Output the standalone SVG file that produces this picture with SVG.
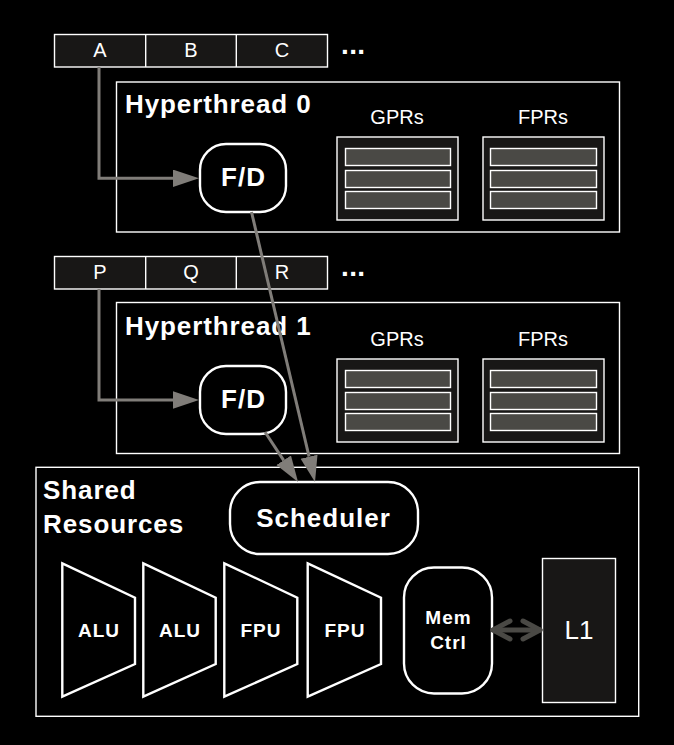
<svg xmlns="http://www.w3.org/2000/svg" width="674" height="745" viewBox="0 0 674 745">
<style>
.box{fill:none;stroke:#fff;stroke-width:1.4}
.dark{fill:#181716;stroke:#fff;stroke-width:1.4}
.bar{fill:#4a4945;stroke:#fff;stroke-width:1.4}
.node{fill:#000;stroke:#fff;stroke-width:2.4}
.t{font-family:"Liberation Sans",Arial,sans-serif;fill:#fff}
.title{font-size:26px;font-weight:bold;letter-spacing:0.9px}
.reg{font-size:20px;text-anchor:middle}
.cell{font-size:20px;text-anchor:middle}
.fd{font-size:26px;font-weight:bold;text-anchor:middle;letter-spacing:1px}
.unit{font-size:19px;font-weight:bold;text-anchor:middle;letter-spacing:1px}
.conn{fill:none;stroke:#807d79;stroke-width:3}
</style>
<defs>
<marker id="ah" markerUnits="userSpaceOnUse" markerWidth="27" markerHeight="18" refX="0" refY="8.7" orient="auto">
<path d="M0,0 L26,8.7 L0,17.4 Z" fill="#807d79"/>
</marker>
</defs>
<rect width="674" height="745" fill="#000"/>

<g id="queue0">
<rect class="dark" x="54.5" y="34.5" width="273" height="32.5"/>
<line x1="145.7" y1="34.5" x2="145.7" y2="67" stroke="#fff" stroke-width="1.4"/>
<line x1="236.3" y1="34.5" x2="236.3" y2="67" stroke="#fff" stroke-width="1.4"/>
<text class="t cell" x="100" y="57">A</text>
<text class="t cell" x="191" y="57">B</text>
<text class="t cell" x="282" y="57">C</text>
<text class="t" x="341" y="54" font-size="28" font-weight="bold" letter-spacing="0.4">...</text>
</g>

<g id="hyperthread0">
<rect class="box" x="116.5" y="82" width="503" height="150"/>
<text class="t title" x="125" y="113">Hyperthread 0</text>
</g>
<g id="gprs0">
<text class="t reg" x="397" y="124">GPRs</text>
<rect class="dark" x="337" y="137" width="121" height="83"/>
<rect class="bar" x="345.5" y="148.5" width="105" height="17"/>
<rect class="bar" x="345.5" y="170.5" width="105" height="17"/>
<rect class="bar" x="345.5" y="191.5" width="105" height="17"/>
</g>
<g id="fprs0">
<text class="t reg" x="543" y="124">FPRs</text>
<rect class="dark" x="483" y="137" width="121" height="83"/>
<rect class="bar" x="490.5" y="148.5" width="106" height="17"/>
<rect class="bar" x="490.5" y="170.5" width="106" height="17"/>
<rect class="bar" x="490.5" y="191.5" width="106" height="17"/>
</g>
<g id="fd0">
<rect class="node" x="200" y="144" width="86" height="68" rx="26" ry="26"/>
<text class="t fd" x="243.5" y="186">F/D</text>
</g>

<g id="queue1">
<rect class="dark" x="54.5" y="256.5" width="273" height="32.5"/>
<line x1="145.7" y1="256.5" x2="145.7" y2="289" stroke="#fff" stroke-width="1.4"/>
<line x1="236.3" y1="256.5" x2="236.3" y2="289" stroke="#fff" stroke-width="1.4"/>
<text class="t cell" x="100" y="279">P</text>
<text class="t cell" x="191" y="279">Q</text>
<text class="t cell" x="282" y="279">R</text>
<text class="t" x="341" y="276" font-size="28" font-weight="bold" letter-spacing="0.4">...</text>
</g>

<g id="hyperthread1">
<rect class="box" x="116.5" y="302.5" width="503" height="151"/>
<text class="t title" x="125" y="335">Hyperthread 1</text>
</g>
<g id="gprs1">
<text class="t reg" x="397" y="346">GPRs</text>
<rect class="dark" x="337" y="359" width="121" height="83"/>
<rect class="bar" x="345.5" y="370.5" width="105" height="17"/>
<rect class="bar" x="345.5" y="392.5" width="105" height="17"/>
<rect class="bar" x="345.5" y="413.5" width="105" height="17"/>
</g>
<g id="fprs1">
<text class="t reg" x="543" y="346">FPRs</text>
<rect class="dark" x="483" y="359" width="121" height="83"/>
<rect class="bar" x="490.5" y="370.5" width="106" height="17"/>
<rect class="bar" x="490.5" y="392.5" width="106" height="17"/>
<rect class="bar" x="490.5" y="413.5" width="106" height="17"/>
</g>
<g id="fd1">
<rect class="node" x="200" y="366" width="86" height="68" rx="26" ry="26"/>
<text class="t fd" x="243.5" y="408">F/D</text>
</g>

<g id="shared">
<rect class="box" x="36" y="467.3" width="602.7" height="249"/>
<text class="t title" x="43" y="499">Shared</text>
<text class="t title" x="43" y="533">Resources</text>
</g>
<g id="scheduler">
<rect class="node" x="230" y="482" width="188" height="72" rx="30" ry="30"/>
<text class="t fd" x="323.5" y="527" letter-spacing="0.8">Scheduler</text>
</g>
<g id="alu1">
<polygon class="node" points="62.3,563.3 135,597.7 135,664 62.3,696.7"/>
<text class="t unit" x="99" y="637">ALU</text>
</g>
<g id="alu2">
<polygon class="node" points="143.3,563.3 215.7,597.7 215.7,664 143.3,696.7"/>
<text class="t unit" x="180" y="637">ALU</text>
</g>
<g id="fpu1">
<polygon class="node" points="224.3,563.3 297.3,597.7 297.3,664 224.3,696.7"/>
<text class="t unit" x="261" y="637">FPU</text>
</g>
<g id="fpu2">
<polygon class="node" points="307.7,563.3 381,597.7 381,664 307.7,696.7"/>
<text class="t unit" x="345" y="637">FPU</text>
</g>
<g id="memctrl">
<rect class="node" x="404" y="567.5" width="88" height="126" rx="30" ry="30"/>
<text class="t unit" x="448.5" y="624">Mem</text>
<text class="t unit" x="448.5" y="649">Ctrl</text>
</g>
<g id="l1">
<rect class="dark" x="542.5" y="558.5" width="73" height="144"/>
<text class="t" x="579" y="639" font-size="26" text-anchor="middle">L1</text>
</g>

<g id="connectors">
<path class="conn" d="M99,67 V178.3 H173" marker-end="url(#ah)"/>
<path class="conn" d="M99,289 V400 H173" marker-end="url(#ah)"/>
<path class="conn" d="M251.5,212 L309.05,456.7" marker-end="url(#ah)"/>
<path class="conn" d="M265,432 L283.7,460.3" marker-end="url(#ah)"/>
<g fill="none" stroke="#4a4945" stroke-width="5" stroke-linecap="round" stroke-linejoin="round">
<path d="M493,630 H540"/>
<path d="M510,621 L493,630 L510,639"/>
<path d="M523,621 L540,630 L523,639"/>
</g>
</g>
</svg>
